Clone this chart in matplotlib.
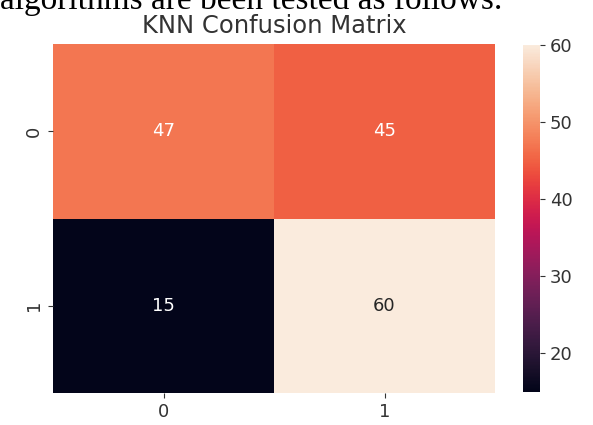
import numpy as np
import matplotlib
matplotlib.use('Agg')
import matplotlib.pyplot as plt
import seaborn as sns

labels = ['0', '1']
cm = np.array([[47, 45],
               [15, 60]])

fig = plt.figure(figsize=(5.93, 4.25), dpi=100)
ax = fig.add_axes([53/593, 1 - 393/425, (495-53)/593, (393-44)/425])
cax = fig.add_axes([523/593, 1 - 392/425, 17/593, (392-45)/425])

sns.heatmap(cm, annot=True, fmt='d', cmap='rocket', vmin=15, vmax=60,
            xticklabels=labels, yticklabels=labels, ax=ax, cbar_ax=cax,
            annot_kws={'size': 13})
ax.set_title('KNN Confusion Matrix', fontsize=17.5, color='#333333', pad=8)
ax.tick_params(labelsize=13, colors='#333333')
ax.set_yticklabels(labels, rotation=90, va='center')
cax.tick_params(labelsize=13, colors='#333333')
cax.set_yticks([20, 30, 40, 50, 60])

# caption line cut off at the top, as in the screenshot
fig.text(0.0, 1.0, 'algorithms are been tested as follows.', family='Liberation Serif',
         fontsize=24, va='center', ha='left')

fig.savefig('out.png', dpi=100)
